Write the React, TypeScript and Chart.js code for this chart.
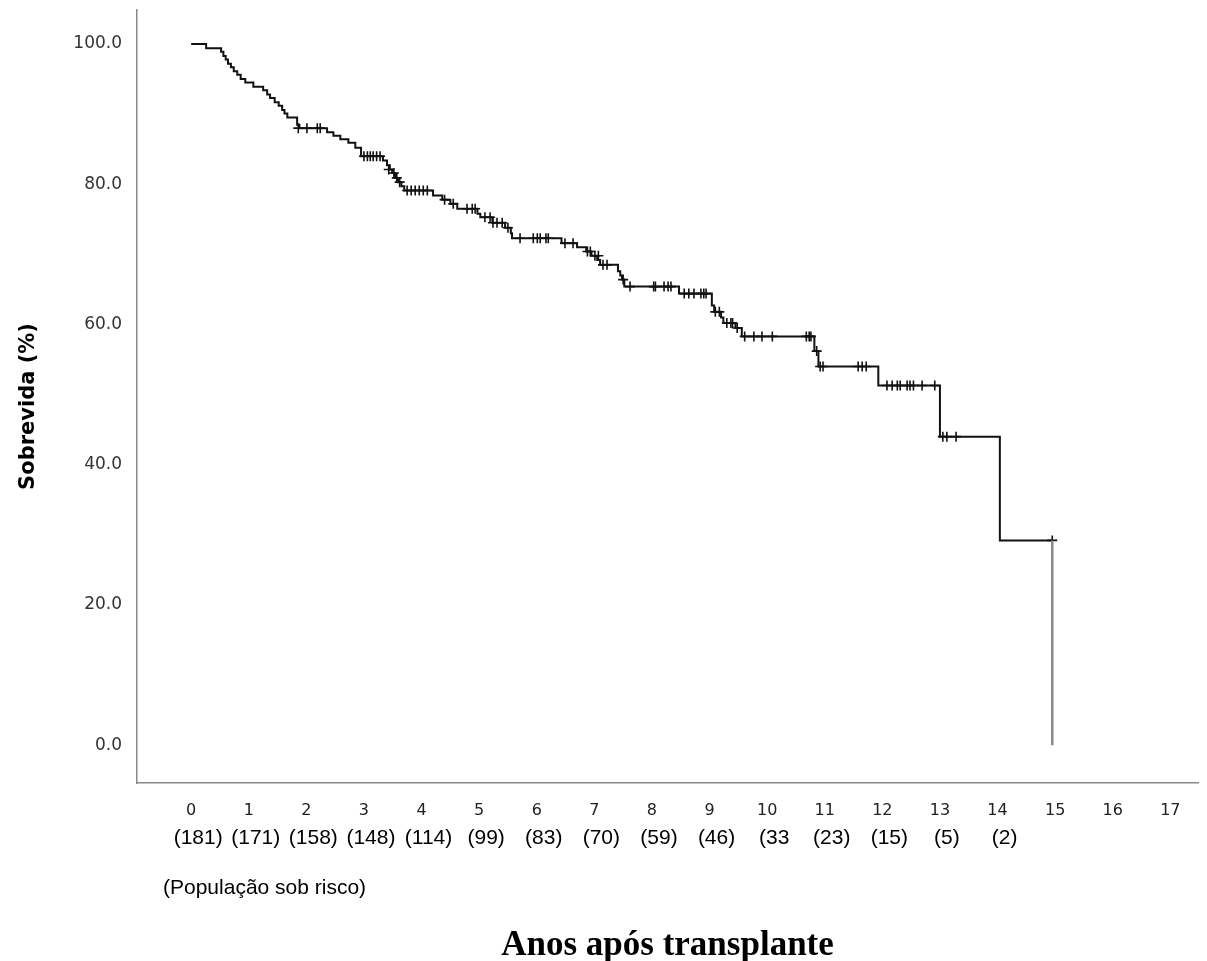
import React, { useEffect, useRef } from "react";
import { Chart, registerables } from "chart.js";

Chart.register(...registerables);

// Kaplan-Meier step times (years) and survival (%) after each step
const stepTimes = [
  0, 0.26, 0.52, 0.56, 0.6, 0.64, 0.69, 0.74, 0.8, 0.86, 0.94, 1.08, 1.25, 1.32, 1.37, 1.45,
  1.52, 1.58, 1.62, 1.67, 1.84, 1.88, 2.36, 2.47, 2.59, 2.73, 2.85, 2.95, 3.33, 3.4, 3.45,
  3.49, 3.54, 3.59, 3.65, 3.7, 4.2, 4.36, 4.5, 4.62, 4.97, 5.02, 5.23, 5.45, 5.55, 5.57,
  6.43, 6.7, 6.86, 6.95, 7.05, 7.1, 7.41, 7.45, 7.48, 7.52, 8.47, 9.04, 9.08, 9.2, 9.24,
  9.45, 9.56, 10.82, 10.89, 11.93, 13.0, 14.04,
];
const stepSurv = [
  100, 99.4, 98.9, 98.3, 97.8, 97.2, 96.7, 96.1, 95.6, 95.0, 94.5, 93.9, 93.4, 92.8, 92.3, 91.7,
  91.2, 90.6, 90.1, 89.5, 88.5, 88.0, 87.4, 86.9, 86.4, 85.9, 85.2, 84.0, 83.4, 82.7, 82.1,
  81.6, 80.9, 80.3, 79.7, 79.1, 78.4, 77.8, 77.2, 76.5, 75.8, 75.3, 74.5, 73.8, 73.0, 72.3,
  71.6, 71.0, 70.4, 69.8, 69.2, 68.5, 67.6, 67.0, 66.4, 65.4, 64.4, 62.7, 61.8, 61.0, 60.2,
  59.5, 58.3, 56.2, 54.0, 51.3, 44.0, 29.2,
];
const lastTime = 14.95;

// Censored observations (+)
const censorTimes = [
  1.86, 2.01, 2.19, 2.24, 3.0, 3.06, 3.11, 3.16, 3.22, 3.28, 3.43, 3.52, 3.57, 3.62, 3.75,
  3.82, 3.89, 3.96, 4.03, 4.1, 4.4, 4.55, 4.79, 4.88, 4.93, 5.1, 5.19, 5.24, 5.31, 5.4, 5.5,
  5.71, 5.94, 6.01, 6.06, 6.16, 6.2, 6.49, 6.63, 6.88, 6.93, 7.01, 7.07, 7.15, 7.22, 7.5,
  7.62, 8.03, 8.06, 8.21, 8.28, 8.33, 8.56, 8.64, 8.73, 8.85, 8.9, 8.94, 9.1, 9.17, 9.3,
  9.37, 9.4, 9.48, 9.61, 9.77, 9.91, 10.09, 10.68, 10.73, 10.76, 10.86, 10.92, 10.97, 11.58,
  11.65, 11.72, 12.08, 12.17, 12.26, 12.31, 12.43, 12.48, 12.54, 12.69, 12.91, 13.05, 13.12,
  13.28, 14.95,
];
const censorSurv = [
  88.0, 88.0, 88.0, 88.0, 84.0, 84.0, 84.0, 84.0, 84.0, 84.0, 82.1, 81.6, 80.9, 80.3, 79.1,
  79.1, 79.1, 79.1, 79.1, 79.1, 77.8, 77.2, 76.5, 76.5, 76.5, 75.3, 75.3, 74.5, 74.5, 74.5, 73.8,
  72.3, 72.3, 72.3, 72.3, 72.3, 72.3, 71.6, 71.6, 70.4, 70.4, 69.8, 69.8, 68.5, 68.5, 66.4,
  65.4, 65.4, 65.4, 65.4, 65.4, 65.4, 64.4, 64.4, 64.4, 64.4, 64.4, 64.4, 61.8, 61.8, 60.2,
  60.2, 60.2, 59.5, 58.3, 58.3, 58.3, 58.3, 58.3, 58.3, 58.3, 56.2, 54.0, 54.0, 54.0,
  54.0, 54.0, 51.3, 51.3, 51.3, 51.3, 51.3, 51.3, 51.3, 51.3, 51.3, 44.0, 44.0,
  44.0, 29.2,
];

const xTicks = [0, 1, 2, 3, 4, 5, 6, 7, 8, 9, 10, 11, 12, 13, 14, 15, 16, 17];
const yTicks = [0, 20, 40, 60, 80, 100];
const riskLabels = [
  "(181)", "(171)", "(158)", "(148)", "(114)", "(99)", "(83)", "(70)", "(59)", "(46)",
  "(33", "(23)", "(15)", "(5)", "(2)",
];
const riskNote = "(População sob risco)";
const yTitle = "Sobrevida (%)";
const xTitle = "Anos após transplante";

export default function App() {
  const ref = useRef<HTMLCanvasElement | null>(null);

  useEffect(() => {
    if (!ref.current) return;
    const kmData = stepTimes.map((t, i) => ({ x: t, y: stepSurv[i] }));
    kmData.push({ x: lastTime, y: stepSurv[stepSurv.length - 1] });
    const dropData = [
      { x: lastTime, y: stepSurv[stepSurv.length - 1] },
      { x: lastTime, y: 0 },
    ];
    const censorData = censorTimes.map((t, i) => ({ x: t, y: censorSurv[i] }));

    const textPlugin = {
      id: "extraText",
      afterDraw(chart: any) {
        const ctx = chart.ctx;
        const xs = chart.scales.x;
        const area = chart.chartArea;
        ctx.save();
        ctx.fillStyle = "#000";
        ctx.font = '21px "Liberation Sans", Arial, sans-serif';
        ctx.textAlign = "center";
        ctx.textBaseline = "middle";
        riskLabels.forEach((l, i) => {
          ctx.fillText(l, xs.getPixelForValue(xTicks[i]) + 7, 838);
        });
        ctx.textAlign = "left";
        ctx.font = '21px "Liberation Sans", Arial, sans-serif';
        ctx.fillText(riskNote, 163, 888);
        // y-axis title
        ctx.translate(29, (area.top + area.bottom) / 2 + 10);
        ctx.rotate(-Math.PI / 2);
        ctx.textAlign = "center";
        ctx.font = 'bold 21px "DejaVu Sans", sans-serif';
        ctx.fillText(yTitle, 0, 0);
        ctx.restore();
      },
    };

    const chart = new Chart(ref.current, {
      type: "scatter",
      data: {
        datasets: [
          {
            data: dropData,
            showLine: true,
            borderColor: "#8a8a8a",
            borderWidth: 2.5,
            pointRadius: 0,
          },
          {
            data: kmData,
            showLine: true,
            stepped: "before",
            borderColor: "#111",
            borderWidth: 2,
            pointRadius: 0,
          },
          {
            data: censorData,
            showLine: false,
            pointStyle: "cross",
            pointRadius: 5,
            borderColor: "#111",
            borderWidth: 1.6,
          },
        ],
      } as any,
      plugins: [textPlugin],
      options: {
        responsive: false,
        animation: false,
        devicePixelRatio: 1,
        layout: { padding: { left: 0, top: 10, right: 9, bottom: 0 } },
        plugins: { legend: { display: false }, tooltip: { enabled: false } },
        scales: {
          x: {
            type: "linear",
            min: -0.94,
            max: 17.48,
            afterBuildTicks: (s: any) => {
              s.ticks = xTicks.map((v) => ({ value: v }));
            },
            afterFit: (s: any) => {
              s.height = 178;
              s.paddingLeft = 0;
              s.paddingRight = 0;
            },
            grid: { display: false, drawTicks: false },
            border: { display: true, color: "#888", width: 1.5 },
            ticks: {
              padding: 18,
              color: "#222",
              font: { family: '"DejaVu Sans", sans-serif', size: 16 },
              callback: (v: any) => String(v),
              maxRotation: 0,
              autoSkip: false,
            },
            title: {
              display: true,
              text: xTitle,
              color: "#000",
              font: { family: '"Liberation Serif", "Times New Roman", serif', size: 35, weight: "bold", lineHeight: 0.85 },
              padding: { top: 0, bottom: 0 },
            },
          },
          y: {
            type: "linear",
            min: -5.4,
            max: 104.85,
            afterBuildTicks: (s: any) => {
              s.ticks = yTicks.map((v) => ({ value: v }));
            },
            afterFit: (s: any) => {
              s.width = 137;
              s.paddingTop = 0;
              s.paddingBottom = 0;
            },
            grid: { display: false, drawTicks: false },
            border: { display: true, color: "#888", width: 1.5 },
            ticks: {
              padding: 15,
              color: "#333",
              font: { family: '"DejaVu Sans", sans-serif', size: 17 },
              callback: (v: any) => Number(v).toFixed(1),
            },
            title: { display: false },
          },
        },
      } as any,
    });
    return () => chart.destroy();
  }, []);

  return (
    <div style={{ position: "absolute", left: 0, top: 0, width: 1207, height: 961 }}>
      <canvas ref={ref} width={1207} height={961} style={{ display: "block", width: 1207, height: 961 }} />
    </div>
  );
}
